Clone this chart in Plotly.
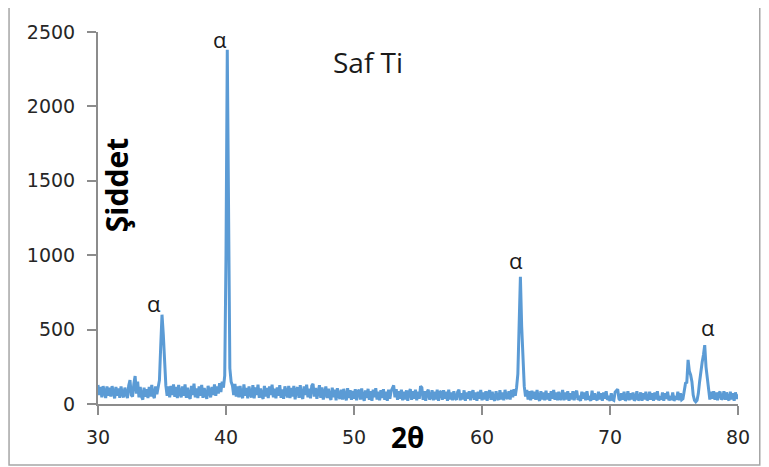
import plotly.graph_objects as go

# 2-theta grid: 30.0 .. 80.0, step 0.1
x_start = 30.0
x_step = 0.1

intensity = [
    128, 60, 115, 45, 120, 70, 40, 118, 55, 110,      # 30
    50, 120, 75, 38, 115, 55, 105, 42, 118, 65,       # 31
    45, 110, 70, 40, 125, 160, 60, 50, 135, 188,      # 32
    70, 150, 45, 115, 50, 30, 110, 48, 100, 40,       # 33
    115, 50, 128, 60, 40, 118, 65, 108, 160, 390,     # 34
    600, 470, 240, 125, 55, 118, 45, 122, 60, 132,    # 35
    48, 115, 40, 128, 70, 45, 118, 55, 132, 42,       # 36
    110, 50, 35, 122, 60, 136, 45, 105, 40, 118,      # 37
    55, 128, 42, 108, 65, 35, 122, 70, 45, 115,       # 38
    60, 132, 55, 118, 70, 140, 80, 150, 110, 190,     # 39
    1000, 2380, 1150, 240, 150, 125, 60, 135, 50, 118,  # 40
    45, 122, 60, 40, 132, 55, 108, 38, 118, 65,       # 41
    45, 126, 38, 112, 60, 130, 42, 104, 55, 35,       # 42
    122, 50, 108, 40, 118, 60, 130, 45, 102, 38,      # 43
    112, 55, 126, 42, 98, 35, 118, 70, 45, 122,       # 44
    40, 108, 50, 122, 32, 98, 112, 42, 126, 55,       # 45
    35, 118, 60, 130, 45, 102, 38, 122, 135, 50,      # 46
    108, 35, 98, 126, 42, 112, 30, 92, 118, 40,       # 47
    102, 50, 28, 110, 45, 96, 25, 106, 55, 35,        # 48
    96, 30, 102, 48, 25, 106, 40, 92, 28, 88,         # 49
    35, 100, 25, 82, 96, 30, 105, 45, 22, 92,         # 50
    40, 102, 28, 86, 22, 96, 45, 106, 30, 82,         # 51
    25, 92, 40, 100, 28, 82, 22, 96, 35, 86,          # 52
    110, 125, 45, 100, 28, 86, 35, 96, 25, 82,        # 53
    30, 92, 22, 78, 100, 28, 86, 35, 96, 25,          # 54
    82, 35, 120, 110, 28, 86, 22, 78, 96, 30,         # 55
    45, 92, 25, 82, 30, 96, 22, 78, 86, 28,           # 56
    92, 35, 82, 22, 96, 30, 78, 25, 86, 40,           # 57
    28, 82, 96, 25, 72, 30, 92, 22, 78, 35,           # 58
    86, 25, 72, 92, 28, 78, 22, 82, 35, 95,           # 59
    25, 78, 30, 86, 22, 72, 92, 28, 82, 35,           # 60
    22, 86, 40, 28, 92, 30, 78, 25, 95, 45,           # 61
    35, 86, 30, 95, 45, 100, 55, 110, 200, 500,       # 62
    855, 520, 260, 120, 50, 95, 30, 86, 25, 90,       # 63
    35, 82, 28, 95, 40, 22, 86, 30, 78, 25,           # 64
    90, 30, 72, 22, 86, 35, 95, 28, 78, 25,           # 65
    82, 28, 40, 95, 25, 78, 30, 86, 22, 72,           # 66
    30, 86, 25, 72, 90, 28, 40, 22, 82, 35,           # 67
    78, 25, 86, 30, 40, 22, 90, 28, 72, 35,           # 68
    25, 82, 30, 72, 22, 78, 35, 86, 28, 40,           # 69
    22, 72, 30, 25, 80, 95, 100, 35, 25, 72,          # 70
    28, 82, 22, 40, 86, 25, 72, 30, 78, 22,           # 71
    40, 86, 25, 35, 78, 22, 72, 30, 82, 25,           # 72
    35, 82, 28, 72, 22, 78, 30, 86, 25, 40,           # 73
    30, 78, 22, 72, 35, 82, 25, 40, 28, 78,           # 74
    22, 40, 30, 82, 25, 72, 28, 35, 80, 140,          # 75
    145, 296, 220, 195, 150, 60, 25, 15, 25, 70,      # 76
    150, 230, 280, 330, 396, 250, 180, 70, 30, 82,    # 77
    35, 86, 28, 78, 25, 72, 82, 30, 40, 86,           # 78
    28, 78, 35, 25, 82, 30, 72, 22, 78, 35,           # 79
    65,                                               # 80
]
two_theta = [round(x_start + x_step * i, 1) for i in range(len(intensity))]

peak_label = "α"
label_x = [34.4, 39.55, 62.68, 77.68]
label_y = [679, 2453, 968, 517]

x_ticks = [30, 40, 50, 60, 70, 80]
y_ticks = [0, 500, 1000, 1500, 2000, 2500]

fig = go.Figure()
fig.add_trace(go.Scatter(
    x=two_theta, y=intensity, mode="lines",
    line=dict(color="#5B9BD5", width=3),
    showlegend=False, hoverinfo="skip",
))

for lx, ly in zip(label_x, label_y):
    fig.add_annotation(x=lx, y=ly, text=peak_label, showarrow=False,
                       font=dict(family="Open Sans", size=22, color="#1a1a1a"))

fig.add_annotation(x=51.1, y=2298, text="Saf Ti", showarrow=False,
                   font=dict(family="Open Sans", size=28, color="#1a1a1a"))
fig.add_annotation(x=31.5, y=1472, text="<b>Şiddet</b>", showarrow=False, textangle=-90,
                   font=dict(family="Open Sans", size=30, color="#000000"))
fig.add_annotation(x=54.2, y=-0.089, yref="paper", yanchor="middle", xanchor="center",
                   text="<b>2θ</b>", showarrow=False,
                   font=dict(family="Open Sans", size=28, color="#000000"))

# outer chart frame
fig.add_shape(type="rect", xref="paper", yref="paper",
              x0=-0.139, x1=1.034, y0=-0.164, y1=1.07,
              line=dict(color="#a6a6a6", width=1.5), layer="below")

axis_common = dict(
    showgrid=False, zeroline=False, showline=True,
    linecolor="#8c8c8c", linewidth=2,
    ticks="outside", ticklen=9, tickwidth=2, tickcolor="#8c8c8c",
    tickfont=dict(family="DejaVu Sans", size=19, color="#262626"),
    automargin=False,
)

fig.update_xaxes(range=[30, 80], tickvals=x_ticks, ticklabelstandoff=6, **axis_common)
fig.update_yaxes(range=[0, 2500], tickvals=y_ticks, ticklabelstandoff=8, **axis_common)

# page body adds an 8px offset, so the figure is 8px smaller
fig.update_layout(
    width=761, height=459,
    margin=dict(l=90, r=31, t=24, b=63),
    paper_bgcolor="white", plot_bgcolor="white",
)

fig.write_html("out.html")
